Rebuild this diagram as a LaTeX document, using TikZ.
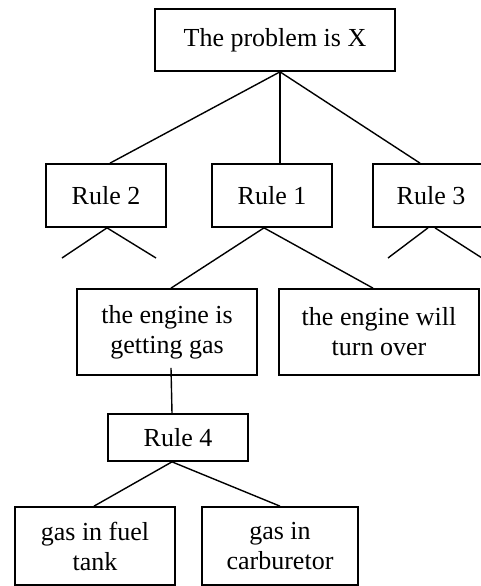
\documentclass[tikz,border=0pt]{standalone}
\usepackage{fontspec}
\setmainfont{Liberation Serif}
\usetikzlibrary{
  	positioning,
  	calc
  }
\tikzstyle{goal}=[draw,line width=1.7pt,align=center,inner sep=0pt,font=\fontsize{26}{30}\selectfont]

\begin{document}
\begin{tikzpicture}[x=1pt,y=-1pt,line width=1.4pt]
    \useasboundingbox (0,0) rectangle (480,586);
    \node[goal,minimum width=240,minimum height=62] (top) at (275,40) {The problem is X};
    \node[goal,minimum width=120,minimum height=63] (r2) at (106,195.5) {Rule 2};
    \node[goal,minimum width=120,minimum height=63] (r1) at (272,195.5) {Rule 1};
    \node[goal,minimum width=116,minimum height=63] (r3) at (431,195.5) {Rule 3};
    \node[goal,minimum width=180,minimum height=86] (gas) at (167,332) {the engine is\\getting gas};
    \node[goal,minimum width=200,minimum height=86] (turn) at (379,332) {the engine will\\turn over};
    \node[goal,minimum width=140,minimum height=47] (r4) at (178,437.5) {Rule 4};
    \node[goal,minimum width=160,minimum height=78] (tank) at (95,546) {gas in fuel\\tank};
    \node[goal,minimum width=156,minimum height=78] (carb) at (280,546) {gas in\\carburetor};
    % loose ends under rules 2 and 3
    \coordinate (r2a) at (62,258);
    \coordinate (r2b) at (156,258);
    \coordinate (r3a) at (388,258);
    \coordinate (r3b) at (482,258);
    \draw ([xshift=5pt]top.south) -- ([xshift=4pt]r2.north);
    \draw ([xshift=5pt]top.south) -- ([xshift=8pt]r1.north);
    \draw ([xshift=5pt]top.south) -- ([xshift=-11pt]r3.north);
    \draw (r2a) -- ([xshift=1pt]r2.south) -- (r2b);
    \draw (r3a) -- ([xshift=-3pt]r3.south);
    \draw ([xshift=4pt]r3.south) -- (r3b);
    \draw ([xshift=4pt]gas.north) -- ([xshift=-8pt]r1.south) -- ([xshift=-6pt]turn.north);
    \draw ([xshift=4pt,yshift=8pt]gas.south) -- ([xshift=-6pt]r4.north);
    \draw ([xshift=-1pt]tank.north) -- ([xshift=-6pt]r4.south) -- (carb.north);
  \end{tikzpicture}
\end{document}
